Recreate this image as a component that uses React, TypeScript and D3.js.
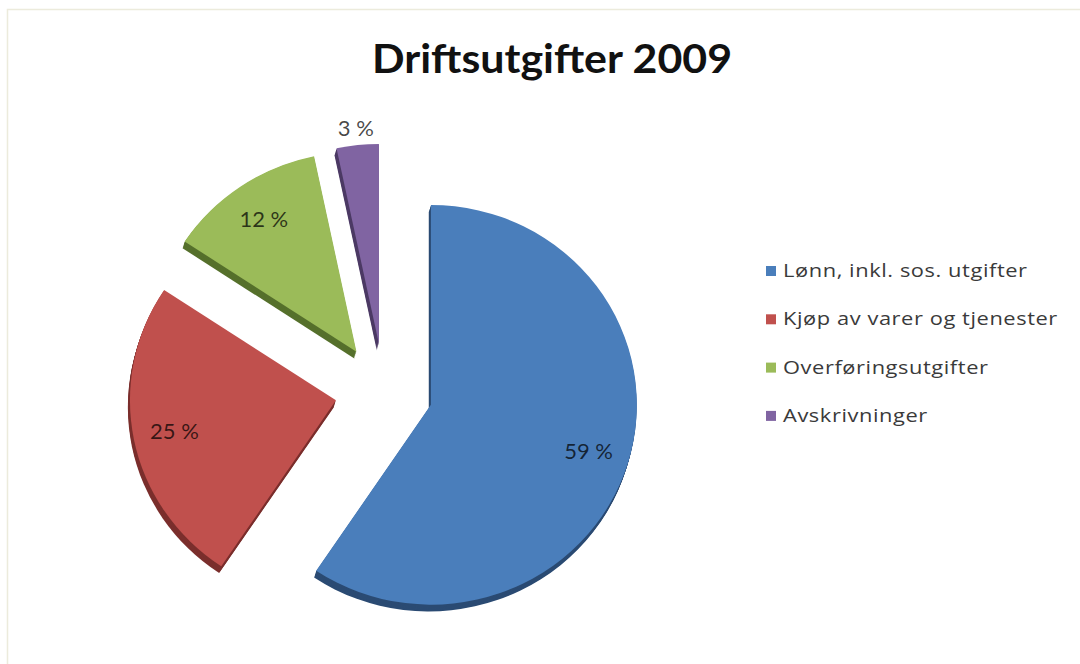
import React from "react";
import * as d3 from "d3";

const title = "Driftsutgifter 2009";
const categories = [
  "Lønn, inkl. sos. utgifter",
  "Kjøp av varer og tjenester",
  "Overføringsutgifter",
  "Avskrivninger",
];
const values = [59.4, 24.9, 12.4, 3.3];
const colors = ["#4a7ebb", "#c0504d", "#9bbb59", "#8064a2"];
const darkColors = ["#2b4b73", "#7b2f2d", "#56702c", "#4c3a64"];

const W = 1080;
const H = 664;
const cx = 384;
const cy = 391;
const R = 206;
const squash = 0.97;
const explode = 49;
const depth = 7;

export default function App() {
  const pie = d3
    .pie<number>()
    .sort(null)
    .value((d) => d);
  const arcs = pie(values);
  const arcGen = d3.arc<d3.PieArcDatum<number>>().innerRadius(0).outerRadius(R);

  const offsetOf = (a: d3.PieArcDatum<number>) => {
    const mid = (a.startAngle + a.endAngle) / 2;
    return [Math.sin(mid) * explode, -Math.cos(mid) * explode];
  };

  const layers = d3.range(depth, 0, -1);

  return (
    <svg
      width={W}
      height={H}
      style={{ position: "absolute", left: 0, top: 0, background: "#fff" }}
      fontFamily="Lato, 'Open Sans', sans-serif"
    >
      <rect x={7.5} y={9.5} width={W} height={H} fill="#fff" stroke="#ecebdc" strokeWidth={1.5} />
      <text
        x={552}
        y={73}
        textAnchor="middle"
        fontSize={40}
        fontWeight="bold"
        fill="#111"
        textLength={360}
        lengthAdjust="spacingAndGlyphs"
      >
        {title}
      </text>
      <g transform={`translate(${cx},${cy}) scale(1,${squash})`}>
        {arcs.map((a, i) => {
          const [ox, oy] = offsetOf(a);
          return (
            <g key={i} transform={`translate(${ox},${oy})`}>
              {layers.map((k) => (
                <path
                  key={k}
                  d={arcGen(a) || ""}
                  transform={`translate(${-k * 0.3},${k})`}
                  fill={darkColors[i]}
                />
              ))}
              <path d={arcGen(a) || ""} fill={colors[i]} />
            </g>
          );
        })}
      </g>
      <g transform={`translate(${cx},${cy})`}>
        {arcs.map((a, i) => {
          const [ox, oy] = offsetOf(a);
          const mid = (a.startAngle + a.endAngle) / 2;
          const small = a.endAngle - a.startAngle < 0.4;
          const r = small ? R + 17 : R * 0.8;
          const x = ox + Math.sin(mid) * r;
          const y = (oy - Math.cos(mid) * r) * squash;
          return (
            <text
              key={i}
              x={x}
              y={y}
              dy="0.35em"
              textAnchor="middle"
              fontSize={22}
              fill="#000"
              fillOpacity={0.72}
            >
              {`${Math.round(values[i])} %`}
            </text>
          );
        })}
      </g>
      <g transform="translate(766,266)">
        {categories.map((c, i) => (
          <g key={c} transform={`translate(0,${i * 48.3})`}>
            <rect x={0} y={0} width={10} height={10} fill={colors[i]} />
            <text
              transform="translate(17,11) scale(1.15,1)"
              fontSize={19}
              fill="#3a3a3a"
              fontFamily="'Open Sans', sans-serif"
              letterSpacing={0.5}
            >
              {c}
            </text>
          </g>
        ))}
      </g>
    </svg>
  );
}
